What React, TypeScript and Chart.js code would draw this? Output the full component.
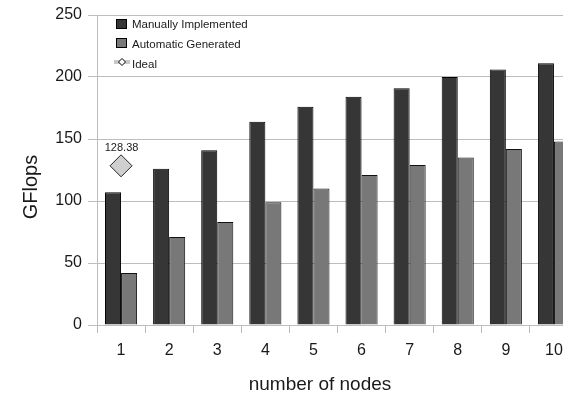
import React, { useEffect, useRef } from "react";
import { Chart, registerables } from "chart.js";

Chart.register(...registerables);

const categories = ["1", "2", "3", "4", "5", "6", "7", "8", "9", "10"];
const manualValues = [107, 126, 141, 164, 176, 184, 191, 200, 206, 211];
const autoValues = [42, 71, 83, 99, 110, 121, 129, 135, 142, 148];
const idealValues = [128.38, null, null, null, null, null, null, null, null, null];
const seriesNames = ["Manually Implemented", "Automatic Generated", "Ideal"];
const yTicks = [0, 50, 100, 150, 200, 250];
const xTitle = "number of nodes";
const yTitle = "GFlops";

const FONT = "'Liberation Sans', Arial, sans-serif";
const TEXT = "#1a1a1a";

const overlayPlugin = {
  id: "overlay",
  afterDatasetsDraw(chart: any) {
    const ctx = chart.ctx;
    ctx.save();
    ctx.fillStyle = TEXT;
    const meta = chart.getDatasetMeta(2);
    meta.data.forEach((pt: any, i: number) => {
      const v = idealValues[i];
      if (v == null) return;
      ctx.font = `11px ${FONT}`;
      ctx.textAlign = "center";
      ctx.textBaseline = "middle";
      ctx.fillText(v.toFixed(2), pt.x + 0.5, pt.y - 18);
    });

    // legend
    const ds = chart.data.datasets;
    ctx.font = `11.5px ${FONT}`;
    ctx.textAlign = "left";
    ctx.textBaseline = "middle";
    ctx.lineWidth = 1;
    ctx.fillStyle = ds[0].backgroundColor;
    ctx.fillRect(116, 19, 11, 10);
    ctx.strokeStyle = "#000";
    ctx.strokeRect(116.5, 19.5, 10, 9);
    ctx.fillStyle = TEXT;
    ctx.fillText(seriesNames[0], 132, 25);
    ctx.fillStyle = ds[1].backgroundColor;
    ctx.fillRect(116, 38, 11, 10);
    ctx.strokeStyle = "#000";
    ctx.strokeRect(116.5, 38.5, 10, 9);
    ctx.fillStyle = TEXT;
    ctx.fillText(seriesNames[1], 132, 44.5);
    ctx.fillStyle = "#c8c8c8";
    ctx.fillRect(114, 60, 16, 4);
    ctx.beginPath();
    ctx.moveTo(122, 58.5);
    ctx.lineTo(125.5, 62);
    ctx.lineTo(122, 65.5);
    ctx.lineTo(118.5, 62);
    ctx.closePath();
    ctx.fillStyle = "#fff";
    ctx.fill();
    ctx.strokeStyle = "#000";
    ctx.stroke();
    ctx.fillStyle = TEXT;
    ctx.fillText(seriesNames[2], 132, 64.5);

    // axis titles
    ctx.font = `19px ${FONT}`;
    ctx.textAlign = "center";
    ctx.textBaseline = "middle";
    ctx.fillText(xTitle, 320, 384.5);
    ctx.save();
    ctx.translate(31.5, 187);
    ctx.rotate(-Math.PI / 2);
    ctx.font = `20px ${FONT}`;
    ctx.fillText(yTitle, 0, 0);
    ctx.restore();
    ctx.restore();
  },
};

export default function App() {
  const ref = useRef<HTMLCanvasElement>(null);

  useEffect(() => {
    document.body.style.margin = "0";
    document.body.style.overflow = "hidden";
    document.documentElement.style.overflow = "hidden";
    const canvas = ref.current;
    if (!canvas) return;
    const chart = new Chart(canvas, {
      type: "bar",
      data: {
        labels: categories,
        datasets: [
          {
            label: seriesNames[0],
            data: manualValues,
            backgroundColor: "#363636",
            borderColor: "#000",
            borderWidth: 1,
            categoryPercentage: 0.667,
            barPercentage: 1,
            order: 2,
          } as any,
          {
            label: seriesNames[1],
            data: autoValues,
            backgroundColor: "#787878",
            borderColor: "#111",
            borderWidth: 1,
            categoryPercentage: 0.667,
            barPercentage: 1,
            order: 2,
          } as any,
          {
            type: "line",
            label: seriesNames[2],
            data: idealValues,
            showLine: false,
            pointStyle: "rectRot",
            pointRadius: 11,
            pointBackgroundColor: "#cfcfcf",
            pointBorderColor: "#222",
            pointBorderWidth: 1,
            order: 1,
          } as any,
        ],
      },
      options: {
        responsive: false,
        animation: false,
        layout: { padding: { top: 15, right: 0, bottom: 0, left: 0 } },
        plugins: {
          legend: { display: false },
          tooltip: { enabled: false },
        },
        events: [],
        scales: {
          x: {
            offset: true,
            grid: {
              offset: true,
              drawOnChartArea: false,
              drawTicks: true,
              tickLength: 8,
              color: "#bbbbbb",
            },
            border: { display: false },
            ticks: {
              color: TEXT,
              font: { family: FONT, size: 16 },
              padding: 8,
              maxRotation: 0,
            },
            afterFit(scale: any) {
              scale.height = 69;
              scale.paddingLeft = 0;
              scale.paddingRight = 0;
            },
          },
          y: {
            min: 0,
            max: 250,
            afterBuildTicks(scale: any) {
              scale.ticks = yTicks.map((v) => ({ value: v }));
            },
            grid: {
              color: "#bdbdbd",
              tickLength: 9,
              lineWidth: 1,
            },
            border: { display: true, color: "#bdbdbd" },
            ticks: {
              color: TEXT,
              font: { family: FONT, size: 16 },
              padding: 6,
            },
            afterFit(scale: any) {
              scale.width = 97;
              scale.paddingTop = 0;
              scale.paddingBottom = 0;
            },
          },
        },
      },
      plugins: [overlayPlugin],
    });
    return () => chart.destroy();
  }, []);

  return (
    <div style={{ width: 563, height: 394, overflow: "hidden", background: "#fff" }}>
      <canvas ref={ref} width={590} height={394} style={{ display: "block" }} />
    </div>
  );
}
